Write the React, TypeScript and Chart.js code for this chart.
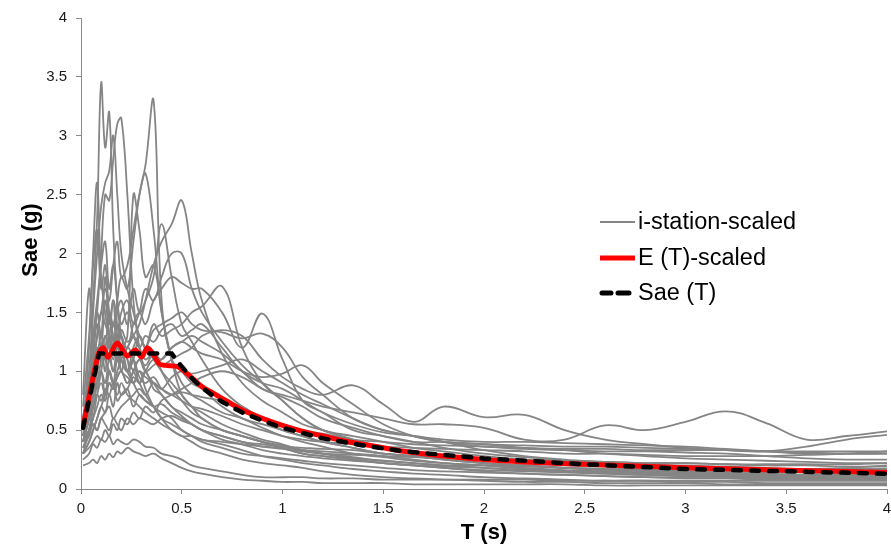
import React, { useEffect, useRef } from "react";
import { Chart, registerables } from "chart.js";

Chart.register(...registerables);

// Periods (s) shared by the station spectra
const periods = [0.01, 0.04, 0.06, 0.08, 0.1, 0.12, 0.14, 0.16, 0.18, 0.2, 0.23, 0.26, 0.29, 0.32, 0.36, 0.4, 0.45, 0.5, 0.55, 0.6, 0.7, 0.8, 0.9, 1.0, 1.1, 1.2, 1.35, 1.5, 1.65, 1.8, 2.0, 2.2, 2.4, 2.6, 2.8, 3.0, 3.2, 3.4, 3.6, 3.8, 4.0];

const st01 = [0.45, 0.9, 1.6, 2.3, 3.45, 2.9, 3.2, 2.2, 1.6, 1.3, 1.1, 0.9, 1.0, 0.85, 0.7, 0.6, 0.55, 0.5, 0.45, 0.42, 0.38, 0.33, 0.28, 0.25, 0.22, 0.2, 0.17, 0.15, 0.13, 0.12, 0.1, 0.09, 0.08, 0.07, 0.07, 0.06, 0.06, 0.05, 0.05, 0.05, 0.05];
const st02 = [0.5, 0.8, 1.2, 1.5, 2.0, 2.5, 2.45, 2.8, 3.1, 3.15, 2.5, 1.6, 1.2, 1.0, 0.9, 0.8, 0.7, 0.65, 0.6, 0.55, 0.5, 0.45, 0.4, 0.35, 0.3, 0.28, 0.25, 0.22, 0.2, 0.18, 0.15, 0.13, 0.12, 0.11, 0.1, 0.09, 0.09, 0.08, 0.08, 0.08, 0.08];
const st03 = [0.4, 0.6, 0.9, 1.1, 1.3, 1.2, 1.5, 1.4, 1.6, 1.8, 1.7, 2.1, 2.5, 2.75, 3.3, 1.6, 1.1, 1.0, 0.9, 0.85, 0.7, 0.6, 0.55, 0.5, 0.45, 0.4, 0.35, 0.3, 0.28, 0.25, 0.22, 0.2, 0.18, 0.17, 0.16, 0.15, 0.14, 0.13, 0.12, 0.12, 0.12];
const st04 = [0.3, 0.4, 0.5, 0.6, 0.7, 0.8, 0.9, 0.85, 1.0, 1.1, 1.2, 1.3, 1.4, 1.6, 1.9, 2.1, 2.25, 2.45, 2.0, 1.6, 1.15, 0.9, 0.75, 0.65, 0.55, 0.5, 0.42, 0.35, 0.3, 0.27, 0.22, 0.2, 0.18, 0.16, 0.15, 0.14, 0.13, 0.12, 0.12, 0.11, 0.11];
const st05 = [0.6, 1.0, 1.5, 2.0, 2.4, 2.6, 2.7, 3.0, 2.5, 2.0, 1.7, 1.5, 1.3, 1.2, 1.1, 1.0, 0.9, 0.8, 0.7, 0.65, 0.55, 0.48, 0.42, 0.38, 0.33, 0.3, 0.27, 0.24, 0.22, 0.2, 0.18, 0.16, 0.15, 0.14, 0.13, 0.12, 0.12, 0.11, 0.11, 0.1, 0.1];
const st06 = [0.4, 0.7, 1.0, 1.3, 1.5, 1.7, 1.6, 1.9, 2.1, 1.8, 1.9, 2.2, 2.5, 2.68, 2.2, 1.5, 1.1, 0.9, 0.8, 0.75, 0.65, 0.6, 0.52, 0.45, 0.4, 0.36, 0.3, 0.27, 0.24, 0.22, 0.2, 0.18, 0.16, 0.15, 0.14, 0.13, 0.12, 0.12, 0.11, 0.11, 0.11];
const st07 = [0.5, 1.2, 2.0, 2.6, 1.8, 1.5, 1.3, 1.6, 1.4, 1.2, 1.3, 2.5, 2.2, 1.8, 1.9, 1.5, 1.1, 0.8, 0.7, 0.6, 0.5, 0.45, 0.4, 0.35, 0.3, 0.28, 0.25, 0.22, 0.2, 0.18, 0.16, 0.15, 0.14, 0.13, 0.12, 0.11, 0.11, 0.1, 0.1, 0.1, 0.1];
const st08 = [0.4, 0.6, 0.8, 1.0, 1.2, 1.1, 1.3, 1.2, 1.5, 1.6, 1.4, 1.7, 1.5, 1.6, 1.8, 2.25, 1.8, 1.4, 1.25, 1.1, 0.85, 0.7, 0.6, 0.5, 0.45, 0.4, 0.35, 0.3, 0.28, 0.25, 0.22, 0.2, 0.18, 0.17, 0.16, 0.15, 0.15, 0.14, 0.14, 0.13, 0.13];
const st09 = [0.3, 0.5, 0.7, 0.9, 1.1, 1.3, 1.2, 1.4, 1.3, 1.5, 1.6, 1.4, 1.5, 1.7, 1.6, 1.8, 2.0, 2.0, 1.7, 1.5, 1.25, 1.05, 0.9, 0.75, 0.6, 0.5, 0.42, 0.36, 0.32, 0.28, 0.25, 0.22, 0.2, 0.19, 0.18, 0.17, 0.16, 0.16, 0.15, 0.15, 0.15];
const st10 = [0.5, 0.7, 0.9, 1.1, 1.2, 1.0, 1.3, 1.2, 1.4, 1.3, 1.2, 1.4, 1.5, 1.4, 1.6, 1.7, 1.8, 1.75, 1.7, 1.7, 1.5, 1.2, 1.49, 1.1, 0.75, 0.65, 0.5, 0.45, 0.4, 0.35, 0.3, 0.27, 0.24, 0.22, 0.2, 0.19, 0.18, 0.17, 0.16, 0.16, 0.16];
const st11 = [0.6, 0.8, 1.0, 1.2, 1.1, 1.3, 1.2, 1.0, 1.1, 1.2, 1.0, 1.1, 1.3, 1.2, 1.4, 1.3, 1.35, 1.4, 1.5, 1.55, 1.72, 1.2, 0.9, 0.75, 0.6, 0.5, 0.45, 0.4, 0.35, 0.32, 0.28, 0.25, 0.22, 0.2, 0.19, 0.18, 0.17, 0.16, 0.15, 0.15, 0.15];
const st12 = [0.4, 0.6, 0.8, 0.9, 1.0, 0.9, 1.1, 1.0, 1.2, 1.1, 1.0, 1.2, 1.3, 1.2, 1.35, 1.4, 1.45, 1.5, 1.4, 1.35, 1.33, 1.28, 1.32, 1.2, 0.95, 0.8, 0.6, 0.5, 0.45, 0.4, 0.33, 0.28, 0.25, 0.23, 0.21, 0.2, 0.19, 0.18, 0.17, 0.17, 0.17];
const st13 = [0.3, 0.4, 0.5, 0.6, 0.7, 0.65, 0.8, 0.7, 0.9, 0.8, 0.85, 0.95, 0.9, 1.0, 1.1, 1.05, 1.1, 1.15, 1.2, 1.3, 1.35, 1.3, 1.1, 0.95, 0.85, 0.8, 0.88, 0.72, 0.57, 0.7, 0.61, 0.63, 0.5, 0.42, 0.38, 0.35, 0.33, 0.32, 0.36, 0.42, 0.46];
const st14 = [0.4, 0.5, 0.6, 0.8, 0.9, 0.8, 1.0, 0.9, 0.95, 1.0, 0.9, 1.0, 1.1, 1.0, 1.05, 1.1, 1.2, 1.25, 1.3, 1.25, 1.15, 1.0, 0.85, 0.8, 0.75, 0.7, 0.65, 0.6, 0.55, 0.55, 0.52, 0.42, 0.42, 0.54, 0.5, 0.57, 0.66, 0.56, 0.42, 0.45, 0.49];
const st15 = [0.2, 0.22, 0.25, 0.22, 0.28, 0.25, 0.3, 0.27, 0.32, 0.3, 0.35, 0.32, 0.3, 0.28, 0.3, 0.26, 0.22, 0.18, 0.15, 0.13, 0.1, 0.08, 0.07, 0.06, 0.06, 0.05, 0.05, 0.05, 0.04, 0.04, 0.04, 0.04, 0.04, 0.03, 0.03, 0.03, 0.03, 0.03, 0.03, 0.03, 0.03];
const st16 = [0.25, 0.3, 0.38, 0.35, 0.42, 0.4, 0.45, 0.38, 0.42, 0.4, 0.38, 0.42, 0.4, 0.36, 0.35, 0.3, 0.28, 0.25, 0.2, 0.18, 0.15, 0.12, 0.1, 0.1, 0.1, 0.09, 0.09, 0.08, 0.08, 0.08, 0.08, 0.08, 0.07, 0.07, 0.07, 0.07, 0.07, 0.07, 0.07, 0.07, 0.07];
const st17 = [0.4, 0.5, 0.55, 0.5, 0.6, 0.55, 0.5, 0.6, 0.55, 0.5, 0.6, 0.55, 0.6, 0.58, 0.55, 0.6, 0.62, 0.58, 0.55, 0.5, 0.42, 0.38, 0.33, 0.3, 0.28, 0.26, 0.24, 0.22, 0.2, 0.19, 0.18, 0.16, 0.15, 0.14, 0.13, 0.12, 0.11, 0.1, 0.1, 0.09, 0.09];
const st18 = [0.45, 0.6, 0.7, 0.8, 0.75, 0.85, 0.8, 0.9, 0.75, 0.8, 0.85, 0.7, 0.8, 0.75, 0.7, 0.72, 0.65, 0.6, 0.55, 0.5, 0.45, 0.4, 0.38, 0.36, 0.35, 0.34, 0.33, 0.3, 0.28, 0.27, 0.26, 0.25, 0.24, 0.23, 0.22, 0.22, 0.21, 0.2, 0.2, 0.19, 0.19];
const st19 = [0.5, 0.65, 0.8, 1.0, 1.2, 1.1, 1.0, 0.9, 1.1, 1.0, 0.95, 0.9, 1.0, 0.95, 0.9, 0.85, 0.8, 0.75, 0.7, 0.68, 0.62, 0.55, 0.5, 0.45, 0.42, 0.4, 0.38, 0.36, 0.35, 0.34, 0.33, 0.32, 0.3, 0.3, 0.29, 0.28, 0.28, 0.28, 0.29, 0.3, 0.32];
const st20 = [0.55, 0.75, 1.0, 1.3, 1.5, 1.4, 1.3, 1.2, 1.3, 1.1, 1.0, 1.1, 0.95, 0.9, 0.95, 0.85, 0.8, 0.82, 0.8, 0.78, 0.75, 0.7, 0.6, 0.55, 0.5, 0.47, 0.42, 0.4, 0.38, 0.37, 0.36, 0.34, 0.33, 0.32, 0.32, 0.31, 0.3, 0.28, 0.26, 0.25, 0.25];
const st21 = [0.35, 0.45, 0.55, 0.5, 0.6, 0.65, 0.7, 0.6, 0.65, 0.7, 0.75, 0.8, 0.85, 0.8, 0.9, 0.85, 0.95, 1.0, 0.98, 1.0, 1.05, 1.1, 1.0, 0.9, 0.8, 0.72, 0.6, 0.5, 0.45, 0.4, 0.38, 0.35, 0.33, 0.3, 0.28, 0.26, 0.25, 0.24, 0.23, 0.22, 0.22];
const st22 = [0.3, 0.35, 0.4, 0.45, 0.42, 0.5, 0.45, 0.55, 0.5, 0.6, 0.55, 0.65, 0.6, 0.7, 0.65, 0.75, 0.8, 0.85, 0.9, 0.95, 1.0, 0.95, 0.85, 0.78, 0.7, 0.6, 0.52, 0.45, 0.4, 0.4, 0.38, 0.37, 0.36, 0.36, 0.35, 0.34, 0.33, 0.32, 0.31, 0.3, 0.3];
const st23 = [0.7, 1.3, 1.9, 2.2, 1.7, 1.9, 1.5, 1.3, 1.1, 1.2, 1.0, 0.9, 0.8, 0.75, 0.7, 0.6, 0.5, 0.45, 0.4, 0.35, 0.3, 0.25, 0.22, 0.2, 0.18, 0.15, 0.12, 0.1, 0.09, 0.08, 0.07, 0.06, 0.06, 0.05, 0.05, 0.05, 0.04, 0.04, 0.04, 0.04, 0.04];
const st24 = [0.8, 1.7, 1.2, 1.5, 1.3, 1.8, 1.4, 1.6, 1.2, 1.3, 1.1, 1.0, 0.9, 0.8, 0.7, 0.65, 0.6, 0.5, 0.45, 0.4, 0.35, 0.3, 0.28, 0.26, 0.24, 0.22, 0.2, 0.18, 0.16, 0.15, 0.14, 0.13, 0.12, 0.11, 0.1, 0.1, 0.1, 0.09, 0.09, 0.09, 0.09];
const st25 = [0.6, 0.9, 1.3, 1.6, 1.9, 2.1, 1.7, 1.9, 1.6, 1.4, 1.5, 1.3, 1.2, 1.1, 1.15, 1.0, 0.85, 0.75, 0.65, 0.6, 0.5, 0.45, 0.4, 0.37, 0.33, 0.3, 0.26, 0.24, 0.22, 0.2, 0.2, 0.19, 0.18, 0.17, 0.17, 0.16, 0.16, 0.16, 0.17, 0.18, 0.2];
const st26 = [0.5, 0.7, 0.9, 0.85, 1.0, 1.2, 1.1, 1.3, 1.2, 1.35, 1.25, 1.3, 1.2, 1.3, 1.25, 1.35, 1.4, 1.3, 1.35, 1.4, 1.2, 1.0, 0.9, 0.85, 0.75, 0.65, 0.55, 0.48, 0.45, 0.42, 0.4, 0.4, 0.39, 0.38, 0.37, 0.36, 0.34, 0.32, 0.3, 0.3, 0.3];
const st27 = [0.35, 0.5, 0.7, 0.9, 1.0, 0.8, 1.0, 0.9, 0.8, 0.9, 0.8, 0.75, 0.7, 0.65, 0.6, 0.55, 0.5, 0.45, 0.45, 0.42, 0.4, 0.38, 0.36, 0.35, 0.33, 0.32, 0.3, 0.28, 0.25, 0.22, 0.2, 0.17, 0.15, 0.13, 0.12, 0.11, 0.1, 0.1, 0.09, 0.09, 0.09];
const st28 = [0.45, 0.7, 1.1, 1.4, 1.2, 1.6, 1.3, 1.1, 1.3, 1.0, 1.2, 1.1, 0.9, 1.0, 0.85, 0.8, 0.7, 0.62, 0.55, 0.5, 0.45, 0.4, 0.36, 0.34, 0.32, 0.3, 0.29, 0.28, 0.27, 0.26, 0.25, 0.24, 0.23, 0.23, 0.22, 0.22, 0.21, 0.21, 0.21, 0.21, 0.22];
const st29 = [0.4, 0.5, 0.6, 0.7, 0.8, 0.75, 0.9, 0.85, 0.95, 1.0, 0.9, 1.0, 1.1, 1.05, 1.15, 1.1, 1.2, 1.25, 1.2, 1.15, 1.1, 1.0, 0.95, 0.98, 1.05, 0.9, 0.72, 0.55, 0.45, 0.4, 0.36, 0.35, 0.34, 0.34, 0.33, 0.33, 0.33, 0.32, 0.32, 0.32, 0.32];

const stations = [st01, st02, st03, st04, st05, st06, st07, st08, st09, st10, st11, st12, st13, st14, st15, st16, st17, st18, st19, st20, st21, st22, st23, st24, st25, st26, st27, st28, st29];

// Mean scaled spectrum E(T)
const meanPeriods = [0.01, 0.085, 0.11, 0.135, 0.18, 0.23, 0.27, 0.3, 0.33, 0.36, 0.39, 0.42, 0.48, 0.52, 0.56, 0.6, 0.65, 0.7, 0.75, 0.8, 0.9, 1.0, 1.1, 1.2, 1.3, 1.4, 1.5, 1.6, 1.7, 1.8, 2.0, 2.2, 2.5, 3.0, 3.5, 4.0];
const meanValues = [0.53, 1.14, 1.2, 1.12, 1.24, 1.13, 1.18, 1.12, 1.2, 1.14, 1.06, 1.05, 1.04, 0.99, 0.93, 0.87, 0.82, 0.77, 0.72, 0.67, 0.6, 0.54, 0.49, 0.45, 0.41, 0.38, 0.35, 0.32, 0.3, 0.28, 0.25, 0.23, 0.21, 0.18, 0.16, 0.14];

// Design spectrum Sae(T)
const saePeriods = [0.01, 0.09, 0.45, 0.5, 0.55, 0.6, 0.7, 0.8, 0.9, 1.0, 1.2, 1.4, 1.6, 1.8, 2.0, 2.5, 3.0, 3.5, 4.0];
const saeValues = [0.52, 1.15, 1.15, 1.04, 0.94, 0.86, 0.74, 0.65, 0.58, 0.52, 0.43, 0.37, 0.32, 0.29, 0.26, 0.21, 0.17, 0.15, 0.13];

const legendLabels = ["i-station-scaled", "E (T)-scaled", "Sae (T)"];
const xTitle = "T (s)";
const yTitle = "Sae (g)";

const FONT = '"Liberation Sans", Arial, Helvetica, sans-serif';
const GRAY = "#858585";

const overlayPlugin = {
  id: "overlay",
  afterDraw(chart: any) {
    const ctx = chart.ctx as CanvasRenderingContext2D;
    const area = chart.chartArea;
    ctx.save();
    ctx.fillStyle = "#000";
    ctx.font = `bold 22px ${FONT}`;
    ctx.textAlign = "center";
    ctx.textBaseline = "middle";
    ctx.fillText(xTitle, (area.left + area.right) / 2, 533);
    ctx.save();
    ctx.translate(31, 240);
    ctx.rotate(-Math.PI / 2);
    ctx.fillText(yTitle, 0, 0);
    ctx.restore();

    // legend
    const rows = [222, 258, 293];
    const x0 = 600;
    const x1 = 635;
    ctx.lineCap = "butt";
    ctx.strokeStyle = GRAY;
    ctx.lineWidth = 2;
    ctx.beginPath();
    ctx.moveTo(x0, rows[0]);
    ctx.lineTo(x1, rows[0]);
    ctx.stroke();
    ctx.strokeStyle = "#ff0000";
    ctx.lineWidth = 5;
    ctx.beginPath();
    ctx.moveTo(x0, rows[1]);
    ctx.lineTo(x1, rows[1]);
    ctx.stroke();
    ctx.strokeStyle = "#000";
    ctx.lineWidth = 5;
    ctx.lineCap = "round";
    ctx.beginPath();
    ctx.moveTo(x0 + 2, rows[2]);
    ctx.lineTo(x0 + 11, rows[2]);
    ctx.moveTo(x0 + 18, rows[2]);
    ctx.lineTo(x0 + 29, rows[2]);
    ctx.stroke();

    ctx.fillStyle = "#000";
    ctx.font = `23.5px ${FONT}`;
    ctx.textAlign = "left";
    ctx.textBaseline = "middle";
    legendLabels.forEach((t, i) => ctx.fillText(t, 638, rows[i] + 1));
    ctx.restore();
  },
};

const tickFmt = (v: any) => String(Math.round(Number(v) * 10) / 10);

export default function App() {
  const ref = useRef<HTMLCanvasElement>(null);
  useEffect(() => {
    const canvas = ref.current;
    if (!canvas) return;
    const grayDatasets = stations.map((vals, k) => ({
      label: k === 0 ? legendLabels[0] : `station ${k + 1}`,
      data: periods.map((t, i) => ({ x: t, y: vals[i] })),
      borderColor: GRAY,
      borderWidth: 1.8,
      tension: 0.4,
      pointRadius: 0,
      fill: false,
      order: 2,
    }));
    const chart = new Chart(canvas, {
      type: "line",
      data: {
        datasets: [
          {
            label: legendLabels[2],
            data: saePeriods.map((t, i) => ({ x: t, y: saeValues[i] })),
            borderColor: "#000",
            borderWidth: 4.5,
            borderDash: [8, 10],
            borderCapStyle: "round",
            tension: 0,
            pointRadius: 0,
            fill: false,
            order: 0,
          },
          {
            label: legendLabels[1],
            data: meanPeriods.map((t, i) => ({ x: t, y: meanValues[i] })),
            borderColor: "#ff0000",
            borderWidth: 5,
            tension: 0.3,
            pointRadius: 0,
            fill: false,
            order: 1,
          },
          ...grayDatasets,
        ] as any,
      },
      options: {
        responsive: false,
        devicePixelRatio: 1,
        animation: false,
        events: [],
        layout: { padding: { top: 18, right: 4, left: 0, bottom: 0 } },
        plugins: { legend: { display: false }, tooltip: { enabled: false } },
        scales: {
          x: {
            type: "linear",
            min: 0,
            max: 4,
            ticks: {
              stepSize: 0.5,
              color: "#1a1a1a",
              font: { size: 15, family: FONT },
              padding: 6,
              maxRotation: 0,
              autoSkip: false,
              callback: tickFmt,
            },
            grid: { drawOnChartArea: false, drawTicks: true, tickLength: 5, color: "#8a8a8a" },
            border: { color: "#8a8a8a", width: 1 },
            afterFit: (s: any) => {
              s.height = 60;
              s.paddingLeft = 0;
              s.paddingRight = 0;
            },
          },
          y: {
            type: "linear",
            min: 0,
            max: 4,
            ticks: {
              stepSize: 0.5,
              color: "#1a1a1a",
              font: { size: 15, family: FONT },
              padding: 9,
              callback: tickFmt,
            },
            grid: { drawOnChartArea: false, drawTicks: true, tickLength: 5, color: "#8a8a8a" },
            border: { color: "#8a8a8a", width: 1 },
            afterFit: (s: any) => {
              s.width = 81;
              s.paddingTop = 0;
              s.paddingBottom = 0;
            },
          },
        },
      } as any,
      plugins: [overlayPlugin],
    });
    return () => chart.destroy();
  }, []);
  return (
    <div style={{ position: "fixed", left: 0, top: 0, width: 891, height: 549, background: "#fff" }}>
      <canvas ref={ref} width={891} height={549} style={{ width: 891, height: 549, display: "block" }} />
    </div>
  );
}
